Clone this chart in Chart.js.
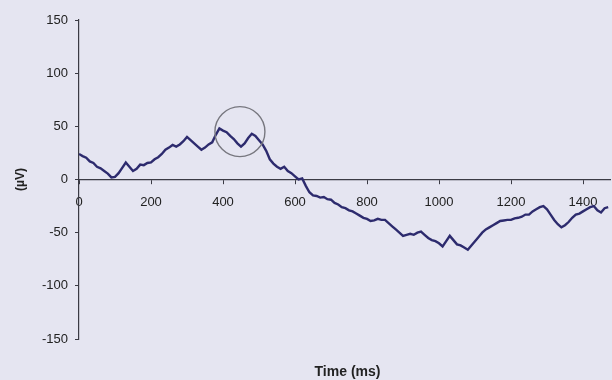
<!DOCTYPE html>
<html>
<head>
<meta charset="utf-8">
<script src="https://cdn.jsdelivr.net/npm/chart.js@4.4.1/dist/chart.umd.min.js"></script>
<style>
  html, body { margin: 0; padding: 0; background: #e5e5f1; }
  #wrap { width: 612px; height: 380px; }
</style>
</head>
<body>
<div id="wrap"><canvas id="myChart" width="612" height="380"></canvas></div>
<script>
'use strict';

// averaged response, sampled every 10 ms
const times = [];
for (let t = 0; t <= 1470; t += 10) times.push(t);

const microvolts = [
  24, 22, 20.5, 17, 15.5, 12, 10.5, 8, 5.5, 2,
  2.5, 6, 11, 16, 12, 8, 10, 14, 13.5, 15.5,
  16, 19, 21, 24, 28, 30, 32.5, 31, 33, 36,
  40, 37, 34, 31, 28, 30, 33, 35, 42, 48,
  46, 44.5, 41, 38, 34, 31, 34, 39, 43, 41,
  37, 33, 27, 19, 15, 12, 10, 12, 8, 6,
  3, 0, 1, -6, -12, -15, -15.5, -17, -16.5, -18.5,
  -19, -22, -23.5, -26, -27, -29, -30, -32, -34, -36,
  -37, -39, -38.5, -37, -38, -38, -41, -44, -47, -50,
  -53, -52, -51, -52, -50, -49, -52, -55, -57, -58,
  -60, -63, -58, -53, -57, -61, -62, -64, -66, -62,
  -58, -54, -50, -47, -45, -43, -41, -39, -38.5, -38,
  -38, -36.5, -36, -35, -33, -33, -30, -28, -26, -25,
  -28, -33, -38, -42, -45, -43, -40, -36, -33, -32,
  -30, -28, -26, -25, -29, -31, -27, -26
];

const yTicks = [-150, -100, -50, 0, 50, 100, 150];
const xTickStep = 200;
const xMax = 1475;

// ring drawn round the double peak: [time, value, radius in px]
const ringMark = [447, 45, 25];

const fontFamily = '"Liberation Sans", Arial, sans-serif';

let points = [];
for (let i = 0; i < times.length; i++) {
  points.push({ x: times[i], y: microvolts[i] });
}

const ringPlugin = {
  id: 'ring',
  afterDatasetsDraw(chart) {
    const ctx = chart.ctx;
    const cx = chart.scales.x.getPixelForValue(ringMark[0]);
    const cy = chart.scales.y.getPixelForValue(ringMark[1]);
    ctx.save();
    ctx.beginPath();
    ctx.arc(cx, cy, ringMark[2], 0, Math.PI * 2);
    ctx.strokeStyle = '#77777f';
    ctx.lineWidth = 1.4;
    ctx.stroke();
    ctx.restore();
  }
};

const timeLabelPlugin = {
  id: 'timeLabel',
  afterDraw(chart) {
    const ctx = chart.ctx;
    const area = chart.chartArea;
    ctx.save();
    ctx.font = 'bold 14px ' + fontFamily;
    ctx.fillStyle = '#222';
    ctx.textAlign = 'center';
    ctx.textBaseline = 'middle';
    ctx.fillText('Time (ms)', (area.left + area.right) / 2 + 3, 372);
    ctx.restore();
  }
};

let ctx = document.getElementById('myChart').getContext('2d');
let myChart = new Chart(ctx, {
  type: 'line',
  data: {
    datasets: [{
      data: points,
      borderColor: '#2d2b6e',
      borderWidth: 2.4,
      pointRadius: 0,
      tension: 0,
      fill: false
    }]
  },
  options: {
    responsive: false,
    animation: false,
    layout: { padding: { top: 20, right: 2, bottom: 41, left: 0 } },
    plugins: {
      legend: { display: false },
      tooltip: { enabled: false }
    },
    scales: {
      x: {
        type: 'linear',
        position: { y: 0 },
        min: 0,
        max: xMax,
        border: { color: '#3a3a44', width: 1.2 },
        grid: { drawOnChartArea: false, drawTicks: true, tickLength: 4, color: '#3a3a44' },
        ticks: {
          stepSize: xTickStep,
          includeBounds: false,
          maxRotation: 0,
          padding: 11,
          color: '#222',
          font: { family: fontFamily, size: 13 },
          callback: (v) => String(v)
        }
      },
      y: {
        min: yTicks[0],
        max: yTicks[yTicks.length - 1],
        afterFit(scale) { scale.width = 79; },
        afterBuildTicks(scale) { scale.ticks = yTicks.map(v => ({ value: v })); },
        border: { color: '#3a3a44', width: 1.2 },
        grid: { drawOnChartArea: false, drawTicks: true, tickLength: 4, color: '#3a3a44' },
        ticks: {
          padding: 7,
          color: '#222',
          font: { family: fontFamily, size: 13 }
        },
        title: {
          display: true,
          text: '(µV)',
          color: '#222',
          padding: { top: 13, bottom: 0 },
          font: { family: fontFamily, size: 12, weight: 'bold' }
        }
      }
    }
  },
  plugins: [ringPlugin, timeLabelPlugin]
});
</script>
</body>
</html>
